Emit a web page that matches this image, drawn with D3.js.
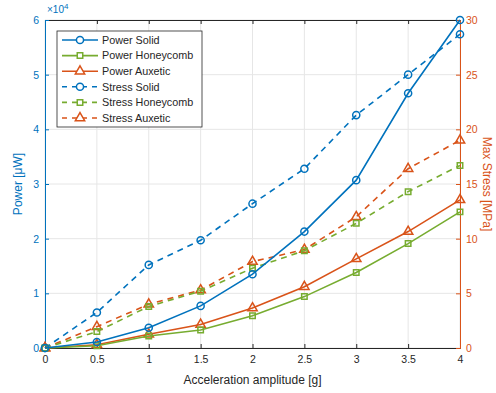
<!DOCTYPE html>
<html>
<head>
<meta charset="utf-8">
<script src="https://cdn.jsdelivr.net/npm/d3@7"></script>
<style>
  body { margin: 0; background: #fff; }
  text { font-family: "Liberation Sans", Arial, sans-serif; }
</style>
</head>
<body>
<div id="chart"></div>
<script>
// acceleration amplitude [g]
var accel = [0, 0.5, 1, 1.5, 2, 2.5, 3, 3.5, 4];

// power, in units of 1e4 uW
var powerSolid     = [0, 0.11, 0.37, 0.77, 1.35, 2.13, 3.07, 4.66, 6.0];
var powerHoneycomb = [0, 0.04, 0.22, 0.33, 0.59, 0.94, 1.38, 1.91, 2.49];
var powerAuxetic   = [0, 0.06, 0.25, 0.43, 0.73, 1.12, 1.63, 2.13, 2.71];

// max stress [MPa]
var stressSolid     = [0, 3.25, 7.6, 9.85, 13.2, 16.4, 21.3, 25.0, 28.7];
var stressHoneycomb = [0, 1.5, 3.8, 5.2, 7.3, 8.9, 11.4, 14.3, 16.7];
var stressAuxetic   = [0, 1.95, 4.0, 5.3, 7.9, 9.0, 12.0, 16.4, 19.0];

var xTicks = [0, 0.5, 1, 1.5, 2, 2.5, 3, 3.5, 4];
var yLeftTicks = [0, 1, 2, 3, 4, 5, 6];
var yRightTicks = [0, 5, 10, 15, 20, 25, 30];

var width = 496, height = 393;
var margin = {top: 20, right: 36, bottom: 45, left: 45};

var blue = "#0072BD", orange = "#D95319", green = "#77AC30";

var svg = d3.select("#chart").append("svg")
    .attr("width", width)
    .attr("height", height);

var x = d3.scaleLinear().domain([0, 4]).range([margin.left, width - margin.right]);
var yL = d3.scaleLinear().domain([0, 6]).range([height - margin.bottom, margin.top]);
var yR = d3.scaleLinear().domain([0, 30]).range([height - margin.bottom, margin.top]);

// grid
var grid = svg.append("g").attr("class", "grid");
grid.selectAll(".gx").data(xTicks).enter().append("line")
    .attr("x1", function (d) { return x(d); })
    .attr("x2", function (d) { return x(d); })
    .attr("y1", yL.range()[0]).attr("y2", yL.range()[1])
    .attr("stroke", "#e6e6e6").attr("stroke-width", 1);
grid.selectAll(".gy").data(yLeftTicks).enter().append("line")
    .attr("y1", function (d) { return yL(d); })
    .attr("y2", function (d) { return yL(d); })
    .attr("x1", x.range()[0]).attr("x2", x.range()[1])
    .attr("stroke", "#e6e6e6").attr("stroke-width", 1);

// axes (MATLAB style: inward ticks)
var xAxis = d3.axisBottom(x).tickValues(xTicks).tickSize(-4).tickPadding(8)
    .tickFormat(d3.format("~g"));
var xTop = d3.axisTop(x).tickValues(xTicks).tickSize(-4).tickFormat("");
var yLeftAxis = d3.axisLeft(yL).tickValues(yLeftTicks).tickSize(-4).tickPadding(6)
    .tickFormat(d3.format("d"));
var yRightAxis = d3.axisRight(yR).tickValues(yRightTicks).tickSize(-4).tickPadding(6)
    .tickFormat(d3.format("d"));

var gx = svg.append("g")
    .attr("transform", "translate(0," + yL.range()[0] + ")")
    .call(xAxis);
gx.select(".domain").attr("stroke", "#262626");
gx.selectAll(".tick line").attr("stroke", "#262626");
gx.selectAll("text").attr("fill", "#262626").attr("font-size", 10.5);

var gt = svg.append("g")
    .attr("transform", "translate(0," + yL.range()[1] + ")")
    .call(xTop);
gt.select(".domain").attr("stroke", "#262626");
gt.selectAll(".tick line").attr("stroke", "#262626");

var gl = svg.append("g")
    .attr("transform", "translate(" + x.range()[0] + ",0)")
    .call(yLeftAxis);
gl.select(".domain").attr("stroke", blue);
gl.selectAll(".tick line").attr("stroke", blue);
gl.selectAll("text").attr("fill", blue).attr("font-size", 10.5);

var gr = svg.append("g")
    .attr("transform", "translate(" + x.range()[1] + ",0)")
    .call(yRightAxis);
gr.select(".domain").attr("stroke", orange);
gr.selectAll(".tick line").attr("stroke", orange);
gr.selectAll("text").attr("fill", orange).attr("font-size", 10.5);

// exponent label
var expo = svg.append("text")
    .attr("x", margin.left + 2).attr("y", 13)
    .attr("fill", blue).attr("font-size", 10);
expo.append("tspan").text("\u00d710");
expo.append("tspan").attr("dy", -4).attr("font-size", 8).text("4");

// axis titles
svg.append("text")
    .attr("x", (x.range()[0] + x.range()[1]) / 2).attr("y", 384)
    .attr("text-anchor", "middle").attr("fill", "#262626").attr("font-size", 12)
    .text("Acceleration amplitude [g]");
svg.append("text")
    .attr("transform", "translate(22," + (yL(3)) + ") rotate(-90)")
    .attr("text-anchor", "middle").attr("fill", blue).attr("font-size", 12)
    .text("Power [\u03bcW]");
svg.append("text")
    .attr("transform", "translate(483," + (yL(3)) + ") rotate(90)")
    .attr("text-anchor", "middle").attr("fill", orange).attr("font-size", 12)
    .text("Max Stress [MPa]");

// series
var series = [
    {name: "Power Solid", values: powerSolid, scale: yL, color: blue, marker: "circle", dash: null},
    {name: "Power Honeycomb", values: powerHoneycomb, scale: yL, color: green, marker: "square", dash: null},
    {name: "Power Auxetic", values: powerAuxetic, scale: yL, color: orange, marker: "triangle", dash: null},
    {name: "Stress Solid", values: stressSolid, scale: yR, color: blue, marker: "circle", dash: "6,5"},
    {name: "Stress Honeycomb", values: stressHoneycomb, scale: yR, color: green, marker: "square", dash: "6,5"},
    {name: "Stress Auxetic", values: stressAuxetic, scale: yR, color: orange, marker: "triangle", dash: "6,5"}
];

var symbols = {
    circle: d3.symbol().type(d3.symbolCircle).size(40),
    square: d3.symbol().type(d3.symbolSquare).size(30),
    triangle: d3.symbol().type(d3.symbolTriangle).size(38)
};

var plot = svg.append("g").attr("class", "plot");
series.slice().reverse().forEach(function (s) {
    var line = d3.line()
        .x(function (d, i) { return x(accel[i]); })
        .y(function (d) { return s.scale(d); });
    plot.append("path")
        .datum(s.values)
        .attr("d", line)
        .attr("fill", "none")
        .attr("stroke", s.color)
        .attr("stroke-width", 1.6)
        .attr("stroke-dasharray", s.dash);
    plot.selectAll(null).data(s.values).enter().append("path")
        .attr("d", symbols[s.marker])
        .attr("transform", function (d, i) {
            return "translate(" + x(accel[i]) + "," + s.scale(d) + ")";
        })
        .attr("fill", "none")
        .attr("stroke", s.color)
        .attr("stroke-width", 1.5);
});

// legend
var legend = svg.append("g").attr("transform", "translate(57,31)");
legend.append("rect")
    .attr("width", 145).attr("height", 96)
    .attr("fill", "#fff").attr("stroke", "#262626").attr("stroke-width", 0.8);
series.forEach(function (s, i) {
    var row = legend.append("g").attr("transform", "translate(0," + (9 + i * 15.6) + ")");
    row.append("line")
        .attr("x1", 5).attr("x2", 41)
        .attr("stroke", s.color).attr("stroke-width", 1.6)
        .attr("stroke-dasharray", s.dash ? "5,5" : null);
    row.append("path")
        .attr("d", symbols[s.marker])
        .attr("transform", "translate(23,0)")
        .attr("fill", "#fff").attr("stroke", s.color).attr("stroke-width", 1.5);
    row.append("text")
        .attr("x", 45).attr("y", 3.8)
        .attr("fill", "#262626").attr("font-size", 10.8)
        .text(s.name);
});
</script>
</body>
</html>
